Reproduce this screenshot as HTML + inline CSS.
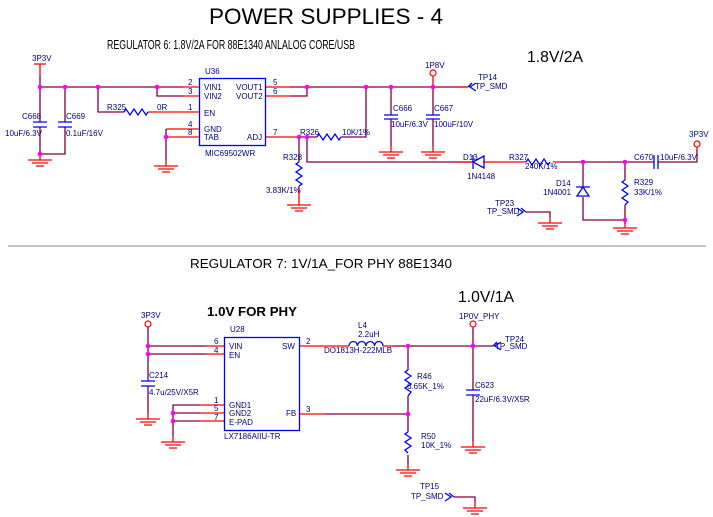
<!DOCTYPE html>
<html><head><meta charset="utf-8"><style>
html,body{margin:0;padding:0;background:#fff;}
svg{display:block;}
text{font-family:"Liberation Sans",sans-serif;font-size:8px;fill:#000080;}
.w{stroke:#800040;stroke-width:1.3;fill:none;}
.r{stroke:#ff0000;stroke-width:1.3;fill:none;}
.b{stroke:#0000ff;stroke-width:1.3;fill:none;}
.d{fill:#ff00ff;}
</style></head><body>
<svg width="713" height="517" viewBox="0 0 713 517" xmlns="http://www.w3.org/2000/svg">
<defs>
<g id="gnd"><path class="r" d="M0 0V6M-12 6H12M-8 9H8M-4 12H4"/></g>
</defs>
<!-- titles -->
<text x="209" y="24" style="font-size:22px;fill:#000" textLength="234" lengthAdjust="spacingAndGlyphs">POWER SUPPLIES - 4</text>
<text x="107" y="49" style="font-size:13px;fill:#000" textLength="248" lengthAdjust="spacingAndGlyphs">REGULATOR 6: 1.8V/2A FOR 88E1340 ANLALOG CORE/USB</text>
<text x="527" y="62" style="font-size:16px;fill:#000" textLength="56" lengthAdjust="spacingAndGlyphs">1.8V/2A</text>
<line x1="8" y1="246" x2="706" y2="246" stroke="#888" stroke-width="1"/>
<text x="190" y="268" style="font-size:13px;fill:#000" textLength="262" lengthAdjust="spacingAndGlyphs">REGULATOR 7: 1V/1A_FOR PHY 88E1340</text>
<text x="458" y="302" style="font-size:16px;fill:#000" textLength="56" lengthAdjust="spacingAndGlyphs">1.0V/1A</text>
<text x="207" y="316" style="font-size:13px;font-weight:bold;fill:#000" textLength="90" lengthAdjust="spacingAndGlyphs">1.0V FOR PHY</text>

<!-- ===== TOP: REG 6 ===== -->
<text x="32" y="61">3P3V</text>
<path class="r" d="M34 64H46M40 64V76"/>
<path class="w" d="M40 76V122M40 127V154H65V127M65 122V87M40 87H183M157 87V96H183M98 87V112H124"/>
<path class="b" d="M33 122H47M33 127H47M58 122H72M58 127H72"/>
<use href="#gnd" x="40" y="154"/>
<text x="22" y="119">C668</text><text x="5" y="136">10uF/6.3V</text>
<text x="66" y="119">C669</text><text x="66" y="136">0.1uF/16V</text>
<path class="r" d="M183 87H200M183 96H200M148 112H200M166 129H200M166 137H200M265 87H290M265 96H290M265 137H300"/>
<path class="b" d="M124 112l2-3l4 6l4-6l4 6l4-6l4 6l2-3"/>
<rect x="199.5" y="78.5" width="66" height="67" class="b"/>
<text x="205" y="74">U36</text>
<text x="188" y="85">2</text><text x="188" y="94">3</text><text x="188" y="110">1</text><text x="188" y="127">4</text><text x="188" y="135">8</text>
<text x="204" y="90">VIN1</text><text x="204" y="99">VIN2</text><text x="204" y="116">EN</text><text x="204" y="132">GND</text><text x="204" y="140">TAB</text>
<text x="236" y="90">VOUT1</text><text x="236" y="99">VOUT2</text><text x="247" y="140">ADJ</text>
<text x="273" y="85">5</text><text x="273" y="94">6</text><text x="273" y="135">7</text>
<text x="205" y="156">MIC69502WR</text>
<text x="107" y="110">R325</text><text x="157" y="110">0R</text>
<path class="w" d="M166 129V160M290 87H467M290 96H307V87M300 137H317M341 137H366V87M307 137V162H473M299 137V162"/>
<use href="#gnd" x="166" y="160"/>
<path class="b" d="M317 137l2-3l4 6l4-6l4 6l4-6l4 6l2-3"/>
<text x="300" y="135">R326</text><text x="342" y="135">10K/1%</text>
<path class="b" d="M299 162l-3 2l6 4l-6 4l6 4l-6 4l6 4l-3 2"/>
<path class="r" d="M299 186V199"/>
<use href="#gnd" x="299" y="199"/>
<text x="283" y="160">R328</text><text x="266" y="193">3.83K/1%</text>
<!-- output caps -->
<path class="w" d="M391 87V115M391 119V146M433 87V115M433 119V146"/>
<path class="b" d="M384 115H398M384 119H398M426 115H440M426 119H440"/>
<use href="#gnd" x="391" y="146"/><use href="#gnd" x="433" y="146"/>
<text x="393" y="111">C666</text><text x="391" y="127">10uF/6.3V</text>
<text x="434" y="111">C667</text><text x="434" y="127">100uF/10V</text>
<text x="425" y="68">1P8V</text>
<circle cx="433" cy="73" r="3" fill="none" stroke="#ff0000" stroke-width="1.2"/>
<path class="r" d="M433 76V87M458 87H468"/>
<path class="b" d="M476 83L470 87L476 91M472 83L468 87"/>
<text x="478" y="80">TP14</text><text x="475" y="89">TP_SMD</text>
<!-- D13 / R327 chain -->
<path class="r" d="M458 162H473M483 162H526M553 162H560"/>
<path class="b" d="M473 155V169M473 162L484 156V168Z" fill="#0000ff"/>
<text x="463" y="160">D13</text><text x="467" y="179">1N4148</text>
<path class="b" d="M526 162l2-3l4 6l4-6l4 6l4-6l4 6l2-3"/>
<text x="509" y="160">R327</text><text x="525" y="169">240K/1%</text>
<path class="w" d="M560 162H654M658 162H697V150M583 162V187M583 197V220H625M625 162V180M625 205V224"/>
<path class="b" d="M654 155V169M658 155V169"/>
<text x="634" y="160">C670</text><text x="660" y="160">10uF/6.3V</text>
<circle cx="697" cy="144" r="3" fill="none" stroke="#ff0000" stroke-width="1.2"/>
<path class="r" d="M697 147V150"/>
<text x="689" y="137">3P3V</text>
<path class="b" d="M576 187H590M583 187L577 196H589Z" fill="#0000ff"/>
<text x="556" y="186">D14</text><text x="543" y="195">1N4001</text>
<path class="b" d="M625 180l-3 2l6 4l-3 2l-3 2l6 4l-6 4l6 4l-3 3"/>
<text x="634" y="185">R329</text><text x="634" y="195">33K/1%</text>
<use href="#gnd" x="625" y="222"/>
<text x="495" y="206">TP23</text><text x="487" y="214">TP_SMD</text>
<path class="b" d="M517 208L523 212L517 216M521 208L526 212"/>
<path class="w" d="M526 212H550V217"/>
<use href="#gnd" x="550" y="217"/>
<!-- dots top -->
<g class="d">
<circle cx="40" cy="87" r="2.3"/><circle cx="65" cy="87" r="2.3"/><circle cx="98" cy="87" r="2.3"/><circle cx="157" cy="87" r="2.3"/>
<circle cx="40" cy="154" r="2.3"/><circle cx="166" cy="137" r="2.3"/><circle cx="307" cy="87" r="2.3"/>
<circle cx="299" cy="137" r="2.3"/><circle cx="307" cy="137" r="2.3"/><circle cx="366" cy="87" r="2.3"/>
<circle cx="391" cy="87" r="2.3"/><circle cx="433" cy="87" r="2.3"/><circle cx="583" cy="162" r="2.3"/>
<circle cx="625" cy="162" r="2.3"/><circle cx="625" cy="220" r="2.3"/>
</g>

<!-- ===== BOTTOM: REG 7 ===== -->
<text x="141" y="318">3P3V</text>
<circle cx="148" cy="324" r="3" fill="none" stroke="#ff0000" stroke-width="1.2"/>
<path class="w" d="M148 327V381M148 386V413M148 346H207M148 354H207"/>
<path class="b" d="M141 381H155M141 386H155"/>
<use href="#gnd" x="148" y="413"/>
<text x="149" y="378">C214</text><text x="149" y="395">4.7u/25V/X5R</text>
<path class="r" d="M207 346H224M207 354H224M200 405H224M200 413H224M200 421H224M299 346H328M299 414H325"/>
<rect x="224.5" y="337.5" width="75" height="93" class="b"/>
<text x="230" y="332">U28</text>
<text x="214" y="344">6</text><text x="214" y="353">4</text><text x="214" y="403">1</text><text x="214" y="411">5</text><text x="214" y="420">7</text>
<text x="229" y="349">VIN</text><text x="229" y="358">EN</text><text x="282" y="349">SW</text>
<text x="229" y="408">GND1</text><text x="229" y="416">GND2</text><text x="229" y="425">E-PAD</text><text x="286" y="416">FB</text>
<text x="306" y="344">2</text><text x="306" y="412">3</text>
<text x="224" y="439">LX7186AIIU-TR</text>
<path class="w" d="M200 405H173V436M173 413H200M173 421H200"/>
<use href="#gnd" x="173" y="436"/>
<path class="r" d="M328 346H349M383 346H393"/>
<path class="b" d="M349 346a4.25 4.5 0 0 1 8.5 0a4.25 4.5 0 0 1 8.5 0a4.25 4.5 0 0 1 8.5 0a4.25 4.5 0 0 1 8.5 0"/>
<text x="358" y="328">L4</text><text x="358" y="337">2.2uH</text><text x="324" y="353">DO1813H-222MLB</text>
<path class="w" d="M393 346H493M408 346V370M408 396V432M325 414H408M408 455V464M473 327V390M473 395V441"/>
<path class="b" d="M408 370l-3 2l6 4l-6 4l6 4l-6 4l6 4l-3 4M408 432l-3 2l6 4l-6 4l6 4l-6 4l3 3"/>
<text x="417" y="379">R46</text><text x="407" y="389">6.65K_1%</text>
<text x="421" y="439">R50</text><text x="421" y="448">10K_1%</text>
<use href="#gnd" x="408" y="464"/>
<path class="b" d="M466 390H480M466 395H480"/>
<use href="#gnd" x="473" y="441"/>
<text x="475" y="388">C623</text><text x="475" y="402">22uF/6.3V/X5R</text>
<text x="459" y="319">1P0V_PHY</text>
<circle cx="473" cy="324" r="3" fill="none" stroke="#ff0000" stroke-width="1.2"/>
<path class="b" d="M501 342L495 346L501 350M497 342L493 346"/>
<text x="505" y="342">TP24</text><text x="495" y="349">TP_SMD</text>
<text x="420" y="489">TP15</text><text x="411" y="499">TP_SMD</text>
<path class="b" d="M445 493L451 497L445 501M449 493L454 497"/>
<path class="w" d="M454 497H475V502"/>
<use href="#gnd" x="475" y="502"/>
<g class="d">
<circle cx="148" cy="346" r="2.3"/><circle cx="148" cy="354" r="2.3"/>
<circle cx="173" cy="413" r="2.3"/><circle cx="173" cy="421" r="2.3"/>
<circle cx="408" cy="346" r="2.3"/><circle cx="473" cy="346" r="2.3"/><circle cx="408" cy="414" r="2.3"/>
</g>
</svg>
</body></html>
